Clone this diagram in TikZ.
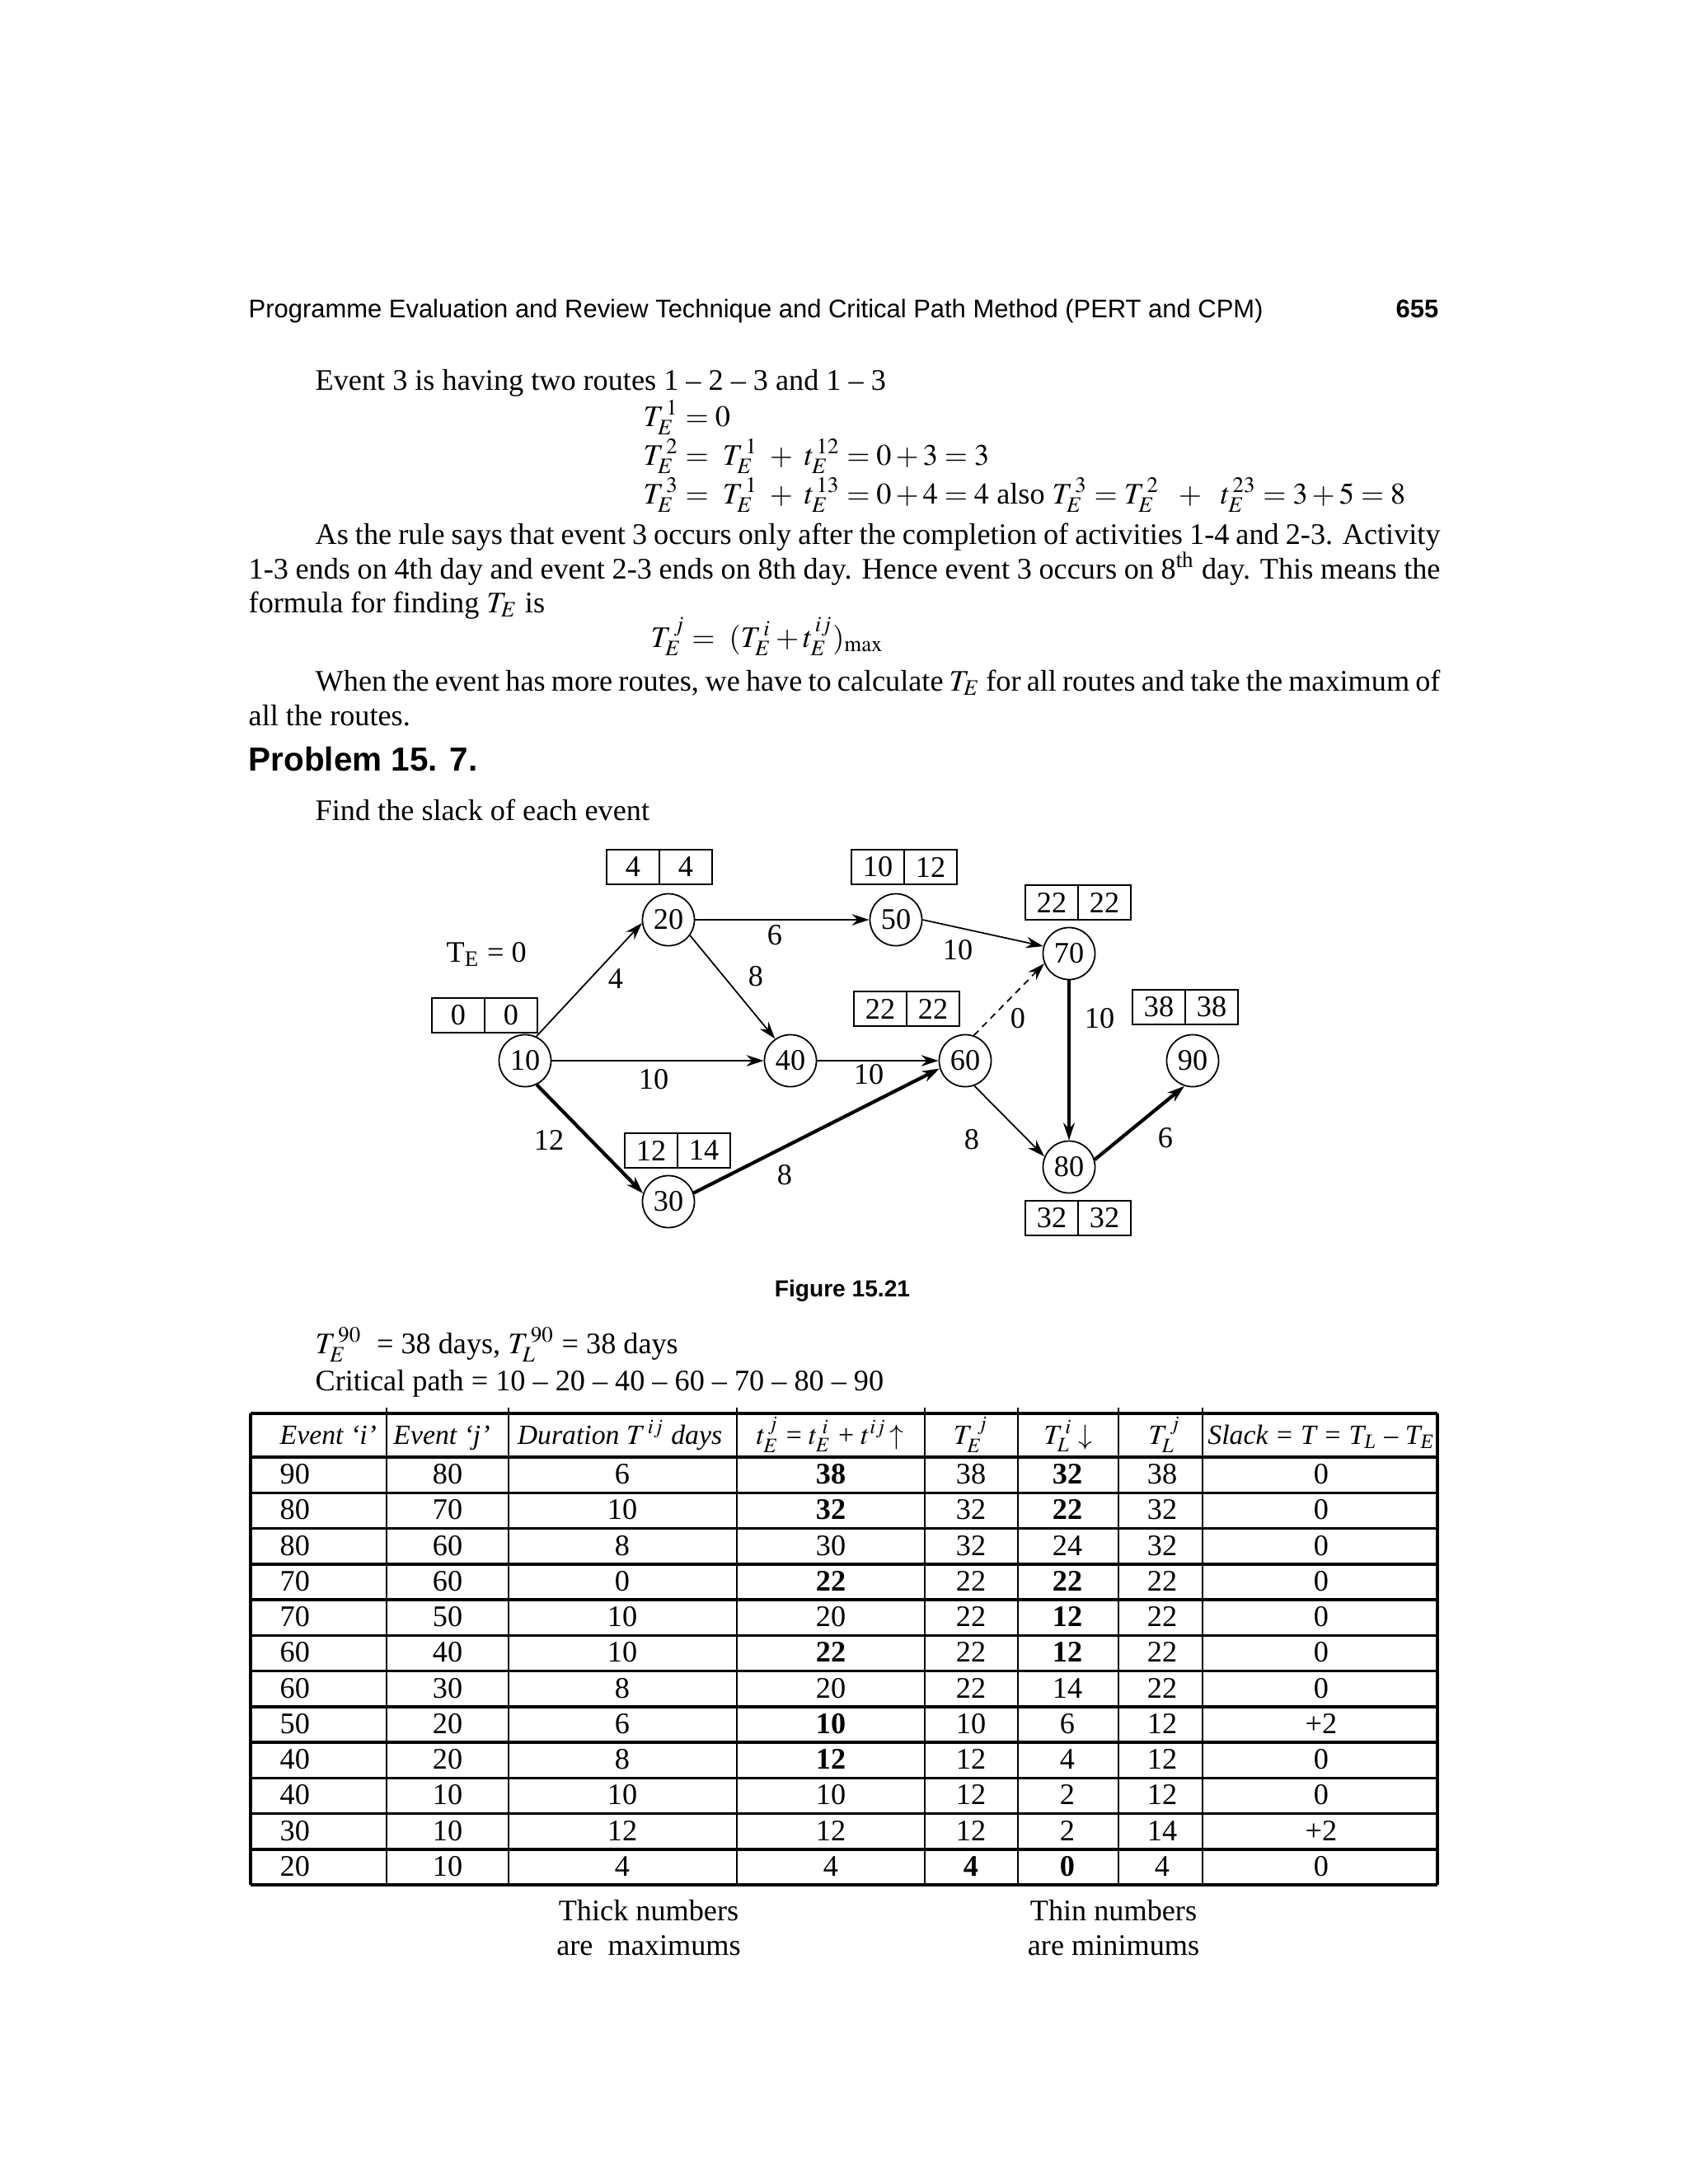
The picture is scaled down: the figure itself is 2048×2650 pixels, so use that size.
\documentclass[tikz,border=0pt]{standalone}
\usepackage{mathptmx}
\usepackage[no-math]{fontspec}
\setmainfont{Liberation Serif}
\setsansfont{Liberation Sans}
\usetikzlibrary{positioning,arrows.meta}

\begin{document}
\begin{tikzpicture}[x=0.01cm, y=-0.01cm,
  font=\fontsize{10.3}{12.4}\selectfont,
  txt/.style={anchor=base west, inner sep=0pt},
  ctxt/.style={anchor=base, inner sep=0pt},
  headtxt/.style={ctxt, font=\fontsize{9.6}{11}\selectfont},
  event/.style={circle, draw, line width=0.5pt, minimum size=6.3mm, inner sep=0pt},
  cell/.style={draw, line width=0.5pt, minimum width=6.4mm, minimum height=4.2mm,
               inner sep=0pt, outer sep=0pt},
  dur/.style={inner sep=0pt},
  act/.style={-{Stealth[length=6pt,width=3.9pt]}, line width=0.5pt},
  crit/.style={act, line width=1.2pt},
  dummy/.style={act, dash pattern=on 2.3pt off 1.8pt},
  tabrule/.style={line width=1pt},
  tabsep/.style={line width=0.7pt}
]
  \useasboundingbox (0,0) rectangle (2048,2650);

  % Running head
  \node[txt, font=\sffamily\fontsize{8.8}{10}\selectfont] (runhead) at (301,385)
    {Programme Evaluation and Review Technique and Critical Path Method (PERT and CPM)};
  \node[anchor=base east, inner sep=0pt, font=\sffamily\bfseries\fontsize{8.8}{10}\selectfont]
    (pageno) at (1746,385) {655};

  % Text above the problem
  \node[txt] (route) at (382,473) {Event 3 is having two routes 1 – 2 – 3 and 1 – 3};
  \node[txt] (te1) at (780,517) {$T_E^{\,1} = 0$};
  \node[txt] (te2) at (780,564) {$T_E^{\,2} =\ T_E^{\,1}\ +\ t_E^{\,12} = 0 + 3 = 3$};
  \node[txt] (te3) at (780,611)
    {$T_E^{\,3} =\ T_E^{\,1}\ +\ t_E^{\,13} = 0 + 4 = 4$ also
     $T_E^{\,3} = T_E^{\,2}\ \ +\ \ t_E^{\,23} = 3 + 5 = 8$};
  \node[txt] (rule1) at (382,660) {\makebox[136.4mm][s]{As the rule says that event 3 occurs
    only after the completion of activities 1-4 and 2-3. Activity}};
  \node[txt] (rule2) at (301,702) {\makebox[144.5mm][s]{1-3 ends on 4th day and event 2-3
    ends on 8th day. Hence event 3 occurs on 8\textsuperscript{th} day. This means the}};
  \node[txt] (rule3) at (301,743) {formula for finding $T_E$ is};
  \node[txt] (formula) at (789,785) {$T_E^{\,j} =\ (T_E^{\,i} + t_E^{\,ij})_{\max}$};
  \node[txt] (more1) at (382,838) {\makebox[136.4mm][s]{When the event has more routes, we
    have to calculate $T_E$ for all routes and take the maximum of}};
  \node[txt] (more2) at (301,880) {all the routes.};
  \node[txt, font=\sffamily\bfseries\fontsize{11.5}{13}\selectfont] (problem) at (301,935)
    {Problem 15. 7.};
  \node[txt] (find) at (382,995) {Find the slack of each event};

  % Events
  \node[event] (n10) at (637,1287) {10};
  \node[event] (n20) at (811,1116) {20};
  \node[event] (n30) at (811,1458) {30};
  \node[event] (n40) at (959,1287) {40};
  \node[event] (n50) at (1087,1116) {50};
  \node[event] (n60) at (1171,1287) {60};
  \node[event] (n70) at (1297,1157) {70};
  \node[event] (n80) at (1297,1416) {80};
  \node[event] (n90) at (1447,1287) {90};

  % Time boxes
  \foreach \ev/\x/\y/\early/\late in {10/556/1232/0/0, 20/768/1052/4/4, 30/790/1396/12/14,
      50/1065/1052/10/12, 60/1068/1224/22/22, 70/1276/1095/22/22, 80/1276/1478/32/32,
      90/1406/1222/38/38} {
    \node[cell] (e\ev) at (\x,\y) {\early};
    \node[cell, right=0pt of e\ev] (l\ev) {\late};
  }
  \node[txt] (tezero) at (541,1167) {T\textsubscript{E} = 0};

  % Activities
  \draw[act] (n10.65) -- (n20.187);
  \draw[act] (n10) -- (n40);
  \draw[crit] (n10.-64) -- (n30.162);
  \draw[act] (n20) -- (n50);
  \draw[act] (n20.-36) -- (n40.125);
  \draw[crit] (n30.19) -- (n60.197);
  \draw[act] (n40) -- (n60);
  \draw[act] (n50.0) -- (n70.164);
  \draw[dummy] (n60.71) -- (n70.202);
  \draw[crit] (n70) -- (n80);
  \draw[act] (n60.-70) -- (n80.157);
  \draw[crit] (n80.16) -- (n90.252);

  % Durations
  \foreach \nm/\x/\y/\d in {d1020/747/1188/4, d2050/940/1135/6, d2040/917/1185/8,
      d1040/793/1310/10, d1030/666/1383/12, d3060/952/1426/8, d5070/1162/1153/10,
      d6070/1235/1236/0, d7080/1334/1236/10, d4060/1054/1304/10, d6080/1179/1383/8,
      d8090/1414/1381/6}
    \node[dur] (\nm) at (\x,\y) {\d};

  \node[ctxt, font=\sffamily\bfseries\fontsize{8}{10}\selectfont] (caption) at (1022,1573)
    {Figure 15.21};

  \node[txt] (tend) at (382,1642) {$T_E^{\,90}$\ \ = 38 days, $T_L^{\,90}$ = 38 days};
  \node[txt] (cpath) at (382,1687) {Critical path = 10 – 20 – 40 – 60 – 70 – 80 – 90};

  % Table rules
  \draw[tabrule] (304,1715) -- (1744,1715);
  \foreach \k in {0,...,12}
    \draw[tabrule] (304,{1768+43.25*\k}) -- (1744,{1768+43.25*\k});
  \draw[tabrule] (304,1715) -- (304,2287);
  \draw[tabrule] (1744,1715) -- (1744,2287);
  \foreach \cx in {469,617,894,1122,1235,1357,1459}
    \draw[tabsep] (\cx,1708) -- (\cx,2287);

  % Table head
  \node[headtxt, anchor=base west] (h1) at (339,1752) {\textit{Event ‘i’}};
  \node[headtxt] (h2) at (536,1752) {\textit{Event ‘j’}};
  \node[headtxt] (h3) at (752,1752) {\textit{Duration} $T^{\,ij}$ \textit{days}};
  \node[headtxt] (h4) at (1007,1752) {$t_E^{\,j}$ = $t_E^{\;i}$ + $t^{ij}\!\uparrow$};
  \node[headtxt] (h5) at (1178,1752) {$T_E^{\;j}$};
  \node[headtxt] (h6) at (1296,1752) {$T_L^{\,i}\downarrow$};
  \node[headtxt] (h7) at (1413,1752) {$T_L^{\,j}$};
  \node[headtxt] (h8) at (1603,1752)
    {\itshape Slack = T = T\textsubscript{L} – T\textsubscript{E}};

  % Table body
  \foreach \a/\b/\c/\d/\e/\f/\g/\h [count=\k] in {
      90/80/6/\textbf{38}/38/\textbf{32}/38/0,
      80/70/10/\textbf{32}/32/\textbf{22}/32/0,
      80/60/8/30/32/24/32/0,
      70/60/0/\textbf{22}/22/\textbf{22}/22/0,
      70/50/10/20/22/\textbf{12}/22/0,
      60/40/10/\textbf{22}/22/\textbf{12}/22/0,
      60/30/8/20/22/14/22/0,
      50/20/6/\textbf{10}/10/6/12/+2,
      40/20/8/\textbf{12}/12/4/12/0,
      40/10/10/10/12/2/12/0,
      30/10/12/12/12/2/14/+2,
      20/10/4/4/\textbf{4}/\textbf{0}/4/0} {
    \pgfmathsetmacro\yy{1757.35+43.25*\k}
    \node[txt] (r\k c1) at (339,\yy) {\a};
    \node[ctxt] (r\k c2) at (543,\yy) {\b};
    \node[ctxt] (r\k c3) at (755,\yy) {\c};
    \node[ctxt] (r\k c4) at (1008,\yy) {\d};
    \node[ctxt] (r\k c5) at (1178,\yy) {\e};
    \node[ctxt] (r\k c6) at (1295,\yy) {\f};
    \node[ctxt] (r\k c7) at (1410,\yy) {\g};
    \node[ctxt] (r\k c8) at (1603,\yy) {\h};
  }

  % Notes under the table
  \node[ctxt] (thick1) at (787,2330) {Thick numbers};
  \node[ctxt] (thick2) at (787,2372) {are\ \ maximums};
  \node[ctxt] (thin1) at (1351,2330) {Thin numbers};
  \node[ctxt] (thin2) at (1351,2372) {are minimums};
\end{tikzpicture}
\end{document}
